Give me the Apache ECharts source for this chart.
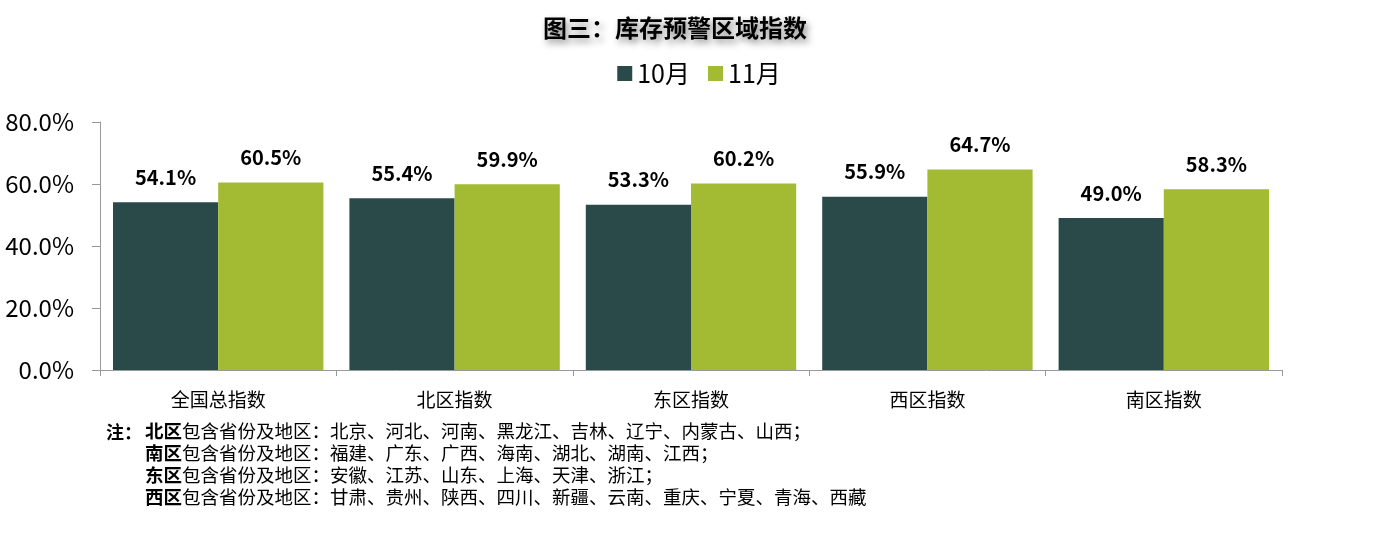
<!DOCTYPE html>
<html><head><meta charset="utf-8">
<script src="https://cdn.jsdelivr.net/npm/echarts@6/dist/echarts.min.js"></script>
<style>html,body{margin:0;padding:0;background:#fff;}#c{width:1398px;height:544px;}</style>
</head><body><div id="c"></div>
<script>
const categories = ['全国总指数', '北区指数', '东区指数', '西区指数', '南区指数'];
const octValues = [54.1, 55.4, 53.3, 55.9, 49.0];
const novValues = [60.5, 59.9, 60.2, 64.7, 58.3];
const seriesNames = ['10月', '11月'];
const noteRegions = ['北区', '南区', '东区', '西区'];
const noteLists = [
  '北京、河北、河南、黑龙江、吉林、辽宁、内蒙古、山西；',
  '福建、广东、广西、海南、湖北、湖南、江西；',
  '安徽、江苏、山东、上海、天津、浙江；',
  '甘肃、贵州、陕西、四川、新疆、云南、重庆、宁夏、青海、西藏'
];
const FONT = '"Noto Sans CJK SC", "Open Sans", sans-serif';
const chart = echarts.init(document.getElementById('c'), null, {renderer: 'canvas'});
const noteGraphics = [{
  type: 'text', left: 106, top: 423,
  style: { text: '注：', font: 'bold 18px ' + FONT, fill: '#000' }
}];
noteRegions.forEach((r, i) => {
  noteGraphics.push({
    type: 'text', left: 145, top: 422 + i * 22,
    style: {
      text: '{b|' + r + '}包含省份及地区：' + noteLists[i],
      font: '18.5px ' + FONT, fill: '#000',
      rich: { b: { fontWeight: 'bold', fontSize: 18.5, fontFamily: FONT, fill: '#000' } }
    }
  });
});
chart.setOption({
  backgroundColor: '#fff',
  animation: false,
  textStyle: { fontFamily: FONT },
  title: {
    text: '图三：库存预警区域指数', left: 538, top: 11,
    textStyle: { fontSize: 24, fontWeight: 'bold', color: '#000', fontFamily: FONT,
      textShadowColor: 'rgba(0,0,0,0.45)', textShadowBlur: 7, textShadowOffsetX: 3, textShadowOffsetY: 4 }
  },
  legend: {
    top: 56, left: 'center', itemWidth: 15, itemHeight: 15, itemGap: 18,
    icon: 'rect',
    textStyle: { fontSize: 25, color: '#000', fontFamily: FONT },
    data: seriesNames
  },
  grid: { left: 100, right: 116, top: 122, bottom: 174, containLabel: false },
  xAxis: {
    type: 'category', data: categories,
    axisLine: { lineStyle: { color: '#999' } },
    axisTick: { show: true, length: 6, lineStyle: { color: '#999' }, alignWithLabel: false },
    axisLabel: { fontSize: 19, color: '#000', margin: 20 }
  },
  yAxis: {
    type: 'value', min: 0, max: 80, interval: 20,
    axisLine: { show: true, lineStyle: { color: '#999' } },
    axisTick: { show: true, length: 8, lineStyle: { color: '#999' } },
    splitLine: { show: false },
    axisLabel: { fontSize: 24, color: '#000', margin: 26, formatter: v => v.toFixed(1) + '%' }
  },
  series: [
    { name: seriesNames[0], type: 'bar', data: octValues, barGap: '0%', barCategoryGap: '11%',
      itemStyle: { color: '#2A4A4A' },
      label: { show: true, position: 'top', distance: 15, fontSize: 20, fontWeight: 'bold', color: '#000',
        formatter: p => p.value.toFixed(1) + '%' } },
    { name: seriesNames[1], type: 'bar', data: novValues, barGap: '0%', barCategoryGap: '11%',
      itemStyle: { color: '#A3BA33' },
      label: { show: true, position: 'top', distance: 15, fontSize: 20, fontWeight: 'bold', color: '#000',
        formatter: p => p.value.toFixed(1) + '%' } }
  ],
  graphic: noteGraphics
});
</script></body></html>
